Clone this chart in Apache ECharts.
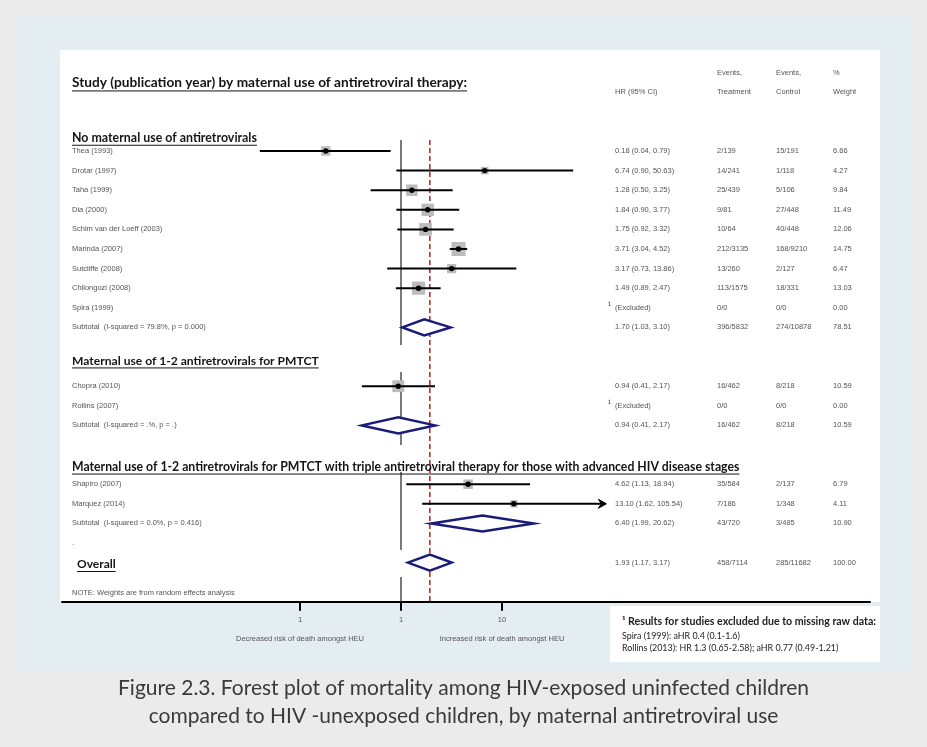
<!DOCTYPE html>
<html><head><meta charset="utf-8">
<script src="https://cdn.jsdelivr.net/npm/echarts@6/dist/echarts.min.js"></script>
<style>html,body{margin:0;padding:0;background:#ebebeb}#c{width:927px;height:747px}</style>
</head><body><div id="c"></div>
<script>
// ---------- DATA ----------
const studyNames = ['Thea (1993)','Drotar (1997)','Taha (1999)','Dia (2000)','Schim van der Loeff (2003)','Marinda (2007)','Sutcliffe (2008)','Chilongozi (2008)','Chopra (2010)','Shapiro (2007)','Marquez (2014)'];
const studyRows = [0,1,2,3,4,5,6,7,12,17,18];
const studyHR = [0.18,6.74,1.28,1.84,1.75,3.71,3.17,1.49,0.94,4.62,13.10];
const studyLo = [0.04,0.90,0.50,0.90,0.92,3.04,0.73,0.89,0.41,1.13,1.62];
const studyHi = [0.79,50.63,3.25,3.77,3.32,4.52,13.86,2.47,2.17,18.94,105.54];
const studyWeight = [6.66,4.27,9.84,11.49,12.06,14.75,6.47,13.03,10.59,6.79,4.11];

const pooledRows = [9,14,19,21];
const pooledHR = [1.70,0.94,6.40,1.93];
const pooledLo = [1.03,0.41,1.99,1.17];
const pooledHi = [3.10,2.17,20.62,3.17];

const tableLabels = ['Thea (1993)','Drotar (1997)','Taha (1999)','Dia (2000)','Schim van der Loeff (2003)','Marinda (2007)','Sutcliffe (2008)','Chilongozi (2008)','Spira (1999)','Subtotal  (I-squared = 79.8%, p = 0.000)','Chopra (2010)','Rollins (2007)','Subtotal  (I-squared = .%, p = .)','Shapiro (2007)','Marquez (2014)','Subtotal  (I-squared = 0.0%, p = 0.416)','.','',''];
const tableRows = [0,1,2,3,4,5,6,7,8,9,12,13,14,17,18,19,20,21,22.55];
const tableHR = ['0.18 (0.04, 0.79)','6.74 (0.90, 50.63)','1.28 (0.50, 3.25)','1.84 (0.90, 3.77)','1.75 (0.92, 3.32)','3.71 (3.04, 4.52)','3.17 (0.73, 13.86)','1.49 (0.89, 2.47)','(Excluded)','1.70 (1.03, 3.10)','0.94 (0.41, 2.17)','(Excluded)','0.94 (0.41, 2.17)','4.62 (1.13, 18.94)','13.10 (1.62, 105.54)','6.40 (1.99, 20.62)','','1.93 (1.17, 3.17)',''];
const tableEvT = ['2/139','14/241','25/439','9/81','10/64','212/3135','13/260','113/1575','0/0','396/5832','16/462','0/0','16/462','35/584','7/186','43/720','','458/7114',''];
const tableEvC = ['15/191','1/118','5/106','27/448','40/448','168/9210','2/127','18/331','0/0','274/10878','8/218','0/0','8/218','2/137','1/348','3/485','','285/11682',''];
const tableWt = ['6.66','4.27','9.84','11.49','12.06','14.75','6.47','13.03','0.00','78.51','10.59','0.00','10.59','6.79','4.11','10.90','','100.00',''];
const noteText = 'NOTE: Weights are from random effects analysis';

const colHeadTop = ['','Events,','Events,','%'];
const colHeadBottom = ['HR (95% CI)','Treatment','Control','Weight'];

const headerTexts = ['Study (publication year) by maternal use of antiretroviral therapy:','No maternal use of antiretrovirals','Maternal use of 1-2 antiretrovirals for PMTCT','Maternal use of 1-2 antiretrovirals for PMTCT with triple antiretroviral therapy for those with advanced HIV disease stages','Overall'];
const headerRows = [-3.47,-0.66,10.71,16.12,21.1];

const tickValues = [0.1,1,10];
const tickLabels = ['1','1','10'];
const axisNotes = ['Decreased risk of death amongst HEU','Increased risk of death amongst HEU'];
const axisNoteAt = [0.1,10];
const nullValue = 1;
const overallValue = 1.93;

const footTitle = '\u00b9 Results for studies excluded due to missing raw data:';
const footLines = ['Spira (1999): aHR 0.4 (0.1-1.6)','Rollins (2013): HR 1.3 (0.65-2.58); aHR 0.77 (0.49-1.21)'];
const captionLines = ['Figure 2.3. Forest plot of mortality among HIV-exposed uninfected children','compared to HIV -unexposed children, by maternal antiretroviral use'];

// ---------- LAYOUT / STYLE ----------
const SMALL = '7.5px "Liberation Sans", Arial, sans-serif';
const GREY = '#555';
const colX = [615,717,776,833];
const labelX = 72;
const headerStyle = [
  {x:72,size:13.7},{x:72,size:12.4},{x:72,size:12.1},{x:72,size:12.25},{x:77,size:12}
];
const nullSegments = [[-0.56,9.9],[11.28,15.0],[16.38,20.36],[21.73,23]];
const _ctx = document.createElement('canvas').getContext('2d');
function measure(t,f){_ctx.font=f;return _ctx.measureText(t).width;}

const chart = echarts.init(document.getElementById('c'), null, {renderer:'canvas'});

const option = {
  backgroundColor:'#ebebeb',
  animation:false,
  graphic:[
    {type:'rect', z:-10, shape:{x:15,y:15,width:897,height:657}, style:{fill:'#e4eef2'}},
    {type:'rect', z:-9, shape:{x:60,y:50,width:820,height:552}, style:{fill:'#ffffff'}},
    {type:'rect', z:-9, shape:{x:610,y:606,width:270,height:56}, style:{fill:'#ffffff'}},
    {type:'text', z:5, style:{x:622,y:622,text:footTitle,font:'bold 10.6px Lato, sans-serif',fill:'#222',verticalAlign:'middle'}},
    {type:'text', z:5, style:{x:622,y:636,text:footLines[0],font:'8.9px Lato, sans-serif',fill:'#222',verticalAlign:'middle'}},
    {type:'text', z:5, style:{x:622,y:648,text:footLines[1],font:'8.9px Lato, sans-serif',fill:'#222',verticalAlign:'middle'}},
    {type:'text', z:5, style:{x:463.5,y:688,text:captionLines[0],font:'21px Lato, sans-serif',fill:'#3a3a3a',align:'center',verticalAlign:'middle'}},
    {type:'text', z:5, style:{x:463.5,y:716,text:captionLines[1],font:'21px Lato, sans-serif',fill:'#3a3a3a',align:'center',verticalAlign:'middle'}}
  ],
  grid:{left:62,right:57,top:53,bottom:145.2,containLabel:false},
  xAxis:{type:'log',logBase:10,min:Math.pow(10,(62-401)/101),max:Math.pow(10,(870-401)/101),
    axisLine:{show:true,onZero:false,lineStyle:{color:'#000',width:2}},axisTick:{show:false},axisLabel:{show:false},splitLine:{show:false},minorTick:{show:false}},
  yAxis:{type:'value',min:-5,max:23,inverse:true,show:false,splitLine:{show:false}},
  series:[
    {type:'custom',z:3,data:nullSegments.map((s,i)=>[nullValue,s[0],i]),
      renderItem(p,api){const s=nullSegments[api.value(2)];const a=api.coord([nullValue,s[0]]),b=api.coord([nullValue,s[1]]);
        return {type:'line',shape:{x1:a[0],y1:a[1],x2:b[0],y2:b[1]},style:{stroke:'#333',lineWidth:1.3}};}},
    {type:'custom',z:3,data:[[overallValue,-0.56]],
      renderItem(p,api){const a=api.coord([overallValue,-0.56]),b=api.coord([overallValue,23]);
        return {type:'line',shape:{x1:a[0],y1:a[1],x2:b[0],y2:b[1]},style:{stroke:'#a3262b',lineWidth:1.5,lineDash:[5,3]}};}},
    {type:'custom',z:4,data:studyHR.map((v,i)=>[v,studyRows[i],studyLo[i],studyHi[i],studyWeight[i]]),
      renderItem(p,api){
        const r=api.value(1);const c=api.coord([api.value(0),r]);const l=api.coord([api.value(2),r]);const h=api.coord([api.value(3),r]);
        const sz=14*Math.sqrt(api.value(4)/14.75);
        const ch=[
          {type:'rect',shape:{x:c[0]-sz/2,y:c[1]-sz/2,width:sz,height:sz},style:{fill:'#bcbcbc'}},
          {type:'line',shape:{x1:l[0],y1:c[1],x2:h[0],y2:c[1]},style:{stroke:'#000',lineWidth:2}},
          {type:'circle',shape:{cx:c[0],cy:c[1],r:2.7},style:{fill:'#000'}}
        ];
        if(api.value(3)>100){
          ch.push({type:'polygon',shape:{points:[[h[0]+1,c[1]],[h[0]-7,c[1]-4.5],[h[0]-4,c[1]],[h[0]-7,c[1]+4.5]]},style:{fill:'#000',stroke:'#000',lineWidth:1}});
        }
        return {type:'group',children:ch};
      }},
    {type:'custom',z:4,data:pooledHR.map((v,i)=>[v,pooledRows[i],pooledLo[i],pooledHi[i]]),
      renderItem(p,api){
        const r=api.value(1);const c=api.coord([api.value(0),r]);const l=api.coord([api.value(2),r]);const h=api.coord([api.value(3),r]);
        return {type:'polygon',shape:{points:[[l[0],c[1]],[c[0],c[1]-8],[h[0],c[1]],[c[0],c[1]+8]]},style:{fill:'#fff',stroke:'#1b1b7a',lineWidth:2.5}};
      }},
    {type:'custom',z:5,data:tableRows.map((r,i)=>[1,r,i]),
      renderItem(p,api){
        const i=api.value(2);const y=api.coord([1,tableRows[i]])[1];
        const ch=[];
        const lab = i===tableRows.length-1 ? noteText : tableLabels[i];
        if(lab) ch.push({type:'text',style:{x:labelX,y,text:lab,font:SMALL,fill:GREY,verticalAlign:'middle'}});
        if(tableHR[i]==='(Excluded)') ch.push({type:'text',style:{x:colX[0]-7,y:y-2,text:'\u00b9',font:'9px "Liberation Sans", Arial, sans-serif',fill:'#333',verticalAlign:'middle'}});
        const vals=[tableHR[i],tableEvT[i],tableEvC[i],tableWt[i]];
        vals.forEach((t,k)=>{if(t) ch.push({type:'text',style:{x:colX[k],y,text:t,font:SMALL,fill:GREY,verticalAlign:'middle'}});});
        return {type:'group',children:ch};
      }},
    {type:'custom',z:5,data:colHeadBottom.map((t,i)=>[1,-3.0,i]),
      renderItem(p,api){
        const i=api.value(2);const y1=api.coord([1,-3.98])[1];const y2=api.coord([1,-3.01])[1];
        const ch=[{type:'text',style:{x:colX[i],y:y2,text:colHeadBottom[i],font:SMALL,fill:GREY,verticalAlign:'middle'}}];
        if(colHeadTop[i]) ch.push({type:'text',style:{x:colX[i],y:y1,text:colHeadTop[i],font:SMALL,fill:GREY,verticalAlign:'middle'}});
        return {type:'group',children:ch};
      }},
    {type:'custom',z:5,data:headerRows.map((r,i)=>[1,r,i]),
      renderItem(p,api){
        const i=api.value(2);const hs=headerStyle[i];const y=api.coord([1,headerRows[i]])[1];
        const font='bold '+hs.size+'px Lato, sans-serif';const w=measure(headerTexts[i],font);
        return {type:'group',children:[
          {type:'text',style:{x:hs.x,y,text:headerTexts[i],font,fill:'#151515',verticalAlign:'middle'}},
          {type:'line',shape:{x1:hs.x,y1:y+hs.size*0.58,x2:hs.x+w,y2:y+hs.size*0.58},style:{stroke:'#151515',lineWidth:1}}
        ]};
      }},
    {type:'custom',z:5,data:tickValues.map((v,i)=>[v,23,i]),
      renderItem(p,api){
        const i=api.value(2);const c=api.coord([tickValues[i],23]);
        return {type:'group',children:[
          {type:'line',shape:{x1:c[0],y1:c[1],x2:c[0],y2:c[1]+9},style:{stroke:'#000',lineWidth:2}},
          {type:'text',style:{x:c[0],y:c[1]+18,text:tickLabels[i],font:SMALL,fill:GREY,align:'center',verticalAlign:'middle'}}
        ]};
      }},
    {type:'custom',z:5,data:axisNoteAt.map((v,i)=>[v,23,i]),
      renderItem(p,api){
        const i=api.value(2);const c=api.coord([axisNoteAt[i],23]);
        return {type:'text',style:{x:c[0],y:c[1]+37,text:axisNotes[i],font:SMALL,fill:GREY,align:'center',verticalAlign:'middle'}};
      }}
  ]
};
chart.setOption(option);
</script></body></html>
